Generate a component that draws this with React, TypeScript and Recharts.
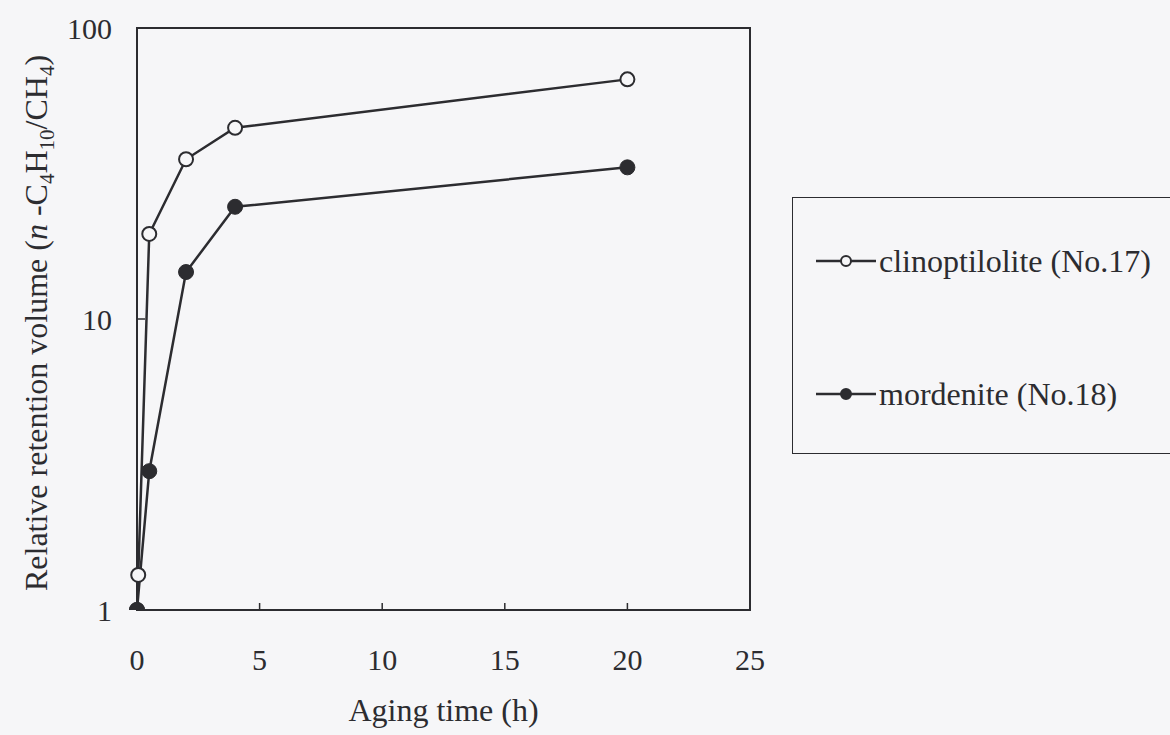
import { LineChart, Line, XAxis, YAxis, ReferenceArea, Legend, Label } from "recharts";

// aging time (h) vs relative retention volume, one pair of arrays per zeolite
const clinoTime = [0, 0.05, 0.5, 2, 4, 20];
const clinoVolume = [1, 1.32, 19.6, 35.4, 45.4, 66.6];
const mordTime = [0, 0.5, 2, 4, 20];
const mordVolume = [1, 3.0, 14.5, 24.3, 33.2];

const xTicks = [0, 5, 10, 15, 20, 25];
const yTicks = [1, 10, 100];
const seriesNames = ["clinoptilolite (No.17)", "mordenite (No.18)"];

const clinoData = clinoTime.map((t, i) => ({ t, v: clinoVolume[i] }));
const mordData = mordTime.map((t, i) => ({ t, v: mordVolume[i] }));

const INK = "#2c2c30";
const PAPER = "#f6f6f8";
const FONT = '"Liberation Serif", "Times New Roman", serif';

const X_GAP = 49;
const Y_GAP = 25;

const XTick = (props: any) => {
  const { x, y, payload } = props;
  const axisY = y - X_GAP;
  return (
    <g>
      <line x1={x} x2={x} y1={axisY} y2={axisY - 7} stroke={INK} strokeWidth={1.5} />
      <text x={x} y={y} dy="0.35em" textAnchor="middle" fontFamily={FONT} fontSize={30} fill={INK}>
        {payload.value}
      </text>
    </g>
  );
};

const YTick = (props: any) => {
  const { x, y, payload } = props;
  const axisX = x + Y_GAP;
  return (
    <g>
      <line x1={axisX} x2={axisX + 8} y1={y} y2={y} stroke={INK} strokeWidth={1.5} />
      <text x={x} y={y} dy="0.35em" textAnchor="end" fontFamily={FONT} fontSize={30} fill={INK}>
        {payload.value}
      </text>
    </g>
  );
};

// rotated title with the italic n and the formula subscripts
const YTitle = (props: any) => {
  const { viewBox } = props;
  const cy = viewBox.y + viewBox.height / 2 + 4;
  const cx = 47;
  return (
    <text
      x={cx}
      y={cy}
      transform={`rotate(-90 ${cx} ${cy})`}
      textAnchor="middle"
      fontFamily={FONT}
      fontSize={32}
      fill={INK}
    >
      Relative retention volume (
      <tspan fontStyle="italic">n</tspan>
      <tspan> -C</tspan>
      <tspan dy={7} fontSize={21}>4</tspan>
      <tspan dy={-7}>H</tspan>
      <tspan dy={7} fontSize={21}>10</tspan>
      <tspan dy={-7}>/CH</tspan>
      <tspan dy={7} fontSize={21}>4</tspan>
      <tspan dy={-7}>)</tspan>
    </text>
  );
};

const Marker = ({ filled }: { filled: boolean }) => (
  <svg width={60} height={20} style={{ flex: "none" }}>
    <line x1={0} x2={60} y1={10} y2={10} stroke={INK} strokeWidth={2.5} />
    <circle cx={30} cy={10} r={5} fill={filled ? INK : PAPER} stroke={INK} strokeWidth={2} />
  </svg>
);

const LegendBox = () => (
  <div
    style={{
      position: "relative",
      width: 378,
      height: 257,
      boxSizing: "border-box",
      border: `1.5px solid ${INK}`,
      borderRight: "none",
      fontFamily: FONT,
      fontSize: 32,
      color: INK,
    }}
  >
    {seriesNames.map((name, i) => (
      <div
        key={name}
        style={{
          position: "absolute",
          left: 23,
          top: (i === 0 ? 63 : 196) - 20,
          height: 40,
          display: "flex",
          alignItems: "center",
          whiteSpace: "nowrap",
        }}
      >
        <Marker filled={i === 1} />
        <span style={{ marginLeft: 3 }}>{name}</span>
      </div>
    ))}
  </div>
);

export default function App() {
  return (
    <div style={{ position: "fixed", inset: 0, background: PAPER, overflow: "hidden" }}>
      <LineChart width={1170} height={735} margin={{ top: 28, right: 420, bottom: 0, left: 0 }}>
        <XAxis
          dataKey="t"
          type="number"
          domain={[0, 25]}
          ticks={xTicks}
          axisLine={false}
          tickSize={0}
          tickMargin={X_GAP}
          tick={<XTick />}
          height={125}
          interval={0}
        >
          <Label
            value="Aging time (h)"
            position="insideBottom"
            offset={0}
            content={(p: any) => (
              <text
                x={p.viewBox.x + p.viewBox.width / 2}
                y={721}
                textAnchor="middle"
                fontFamily={FONT}
                fontSize={32}
                fill={INK}
              >
                Aging time (h)
              </text>
            )}
          />
        </XAxis>
        <YAxis
          dataKey="v"
          type="number"
          scale="log"
          domain={[1, 100]}
          ticks={yTicks}
          allowDataOverflow
          axisLine={false}
          tickSize={0}
          tickMargin={Y_GAP}
          tick={<YTick />}
          width={137}
          interval={0}
        >
          <Label content={<YTitle />} />
        </YAxis>
        <ReferenceArea
          x1={0}
          x2={25}
          y1={1}
          y2={100}
          fill="none"
          stroke={INK}
          strokeWidth={2}
          ifOverflow="visible"
        />
        <Line
          data={clinoData}
          dataKey="v"
          name={seriesNames[0]}
          stroke={INK}
          strokeWidth={2.5}
          dot={{ r: 7, fill: PAPER, stroke: INK, strokeWidth: 2 }}
          isAnimationActive={false}
        />
        <Line
          data={mordData}
          dataKey="v"
          name={seriesNames[1]}
          stroke={INK}
          strokeWidth={2.5}
          dot={{ r: 7.5, fill: INK, stroke: INK, strokeWidth: 1 }}
          isAnimationActive={false}
        />
        <Legend
          layout="horizontal"
          verticalAlign="middle"
          align="center"
          content={<LegendBox />}
          wrapperStyle={{ position: "absolute", left: 792, top: 197, width: 378, height: 257 }}
        />
      </LineChart>
    </div>
  );
}
